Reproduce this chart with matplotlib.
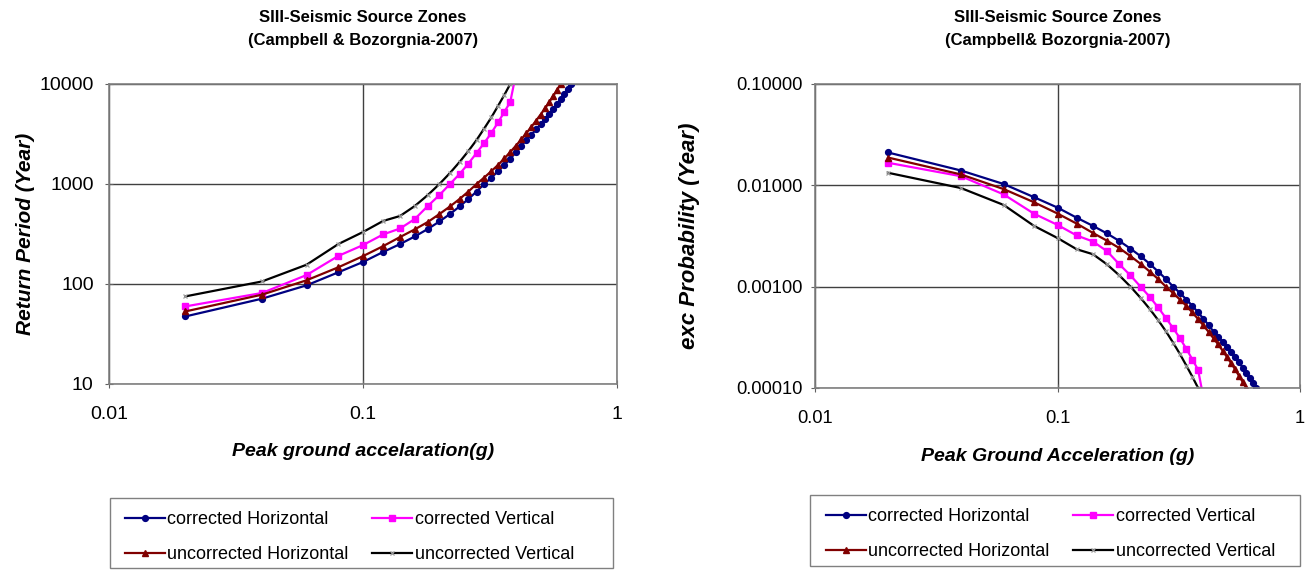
import matplotlib
matplotlib.use("Agg")
import matplotlib.pyplot as plt
from matplotlib.ticker import FixedLocator, FixedFormatter, NullLocator
from matplotlib.lines import Line2D
from matplotlib.patches import Rectangle

plt.rcParams['font.family'] = ['Liberation Sans', 'DejaVu Sans']

# ---------------- data ----------------
pga_ch = [0.02, 0.04, 0.06, 0.08, 0.10, 0.12, 0.14, 0.16, 0.18, 0.20, 0.22, 0.24,
          0.26, 0.28, 0.30, 0.32, 0.34, 0.36, 0.38, 0.40, 0.42, 0.44, 0.46, 0.48,
          0.50, 0.52, 0.54, 0.56, 0.58, 0.60, 0.62, 0.64, 0.66]
pga_uh = pga_ch[:30]
pga_cv = pga_ch[:20]
pga_uv = pga_ch[:19]

# Return period (years) - left chart
rp_corr_h = [47.4, 71.3, 97.0, 131, 166, 209, 251, 299, 355, 422, 501, 596,
             708, 841, 1000, 1156, 1340, 1549, 1795, 2075, 2399, 2780, 3126, 3508,
             3945, 4426, 4977, 5585, 6281, 7047, 7925, 8892, 10000]
rp_uncorr_h = [53.2, 78.2, 109, 147, 190, 239, 295, 352, 417, 501, 596, 708,
               841, 1000, 1159, 1343, 1549, 1799, 2089, 2415, 2799, 3236, 3724, 4295,
               4943, 5689, 6546, 7551, 8690, 10000]
rp_corr_v = [59.7, 81.3, 123, 191, 245, 313, 359, 447, 603, 776, 1000, 1259,
             1603, 2042, 2570, 3236, 4121, 5248, 6607, 12590]
rp_uncorr_v = [75.2, 106, 156, 251, 331, 427, 479, 603, 776, 1000, 1288, 1660,
               2138, 2754, 3589, 4624, 6026, 7762, 10000]

# Exceedance probability (1/year) - right chart
pe_corr_h = [0.0211, 0.0140, 0.0103, 0.00764, 0.00603, 0.00479, 0.00398, 0.00335,
             0.00282, 0.00237, 0.00200, 0.00168, 0.00141, 0.00119, 0.00100, 0.000865,
             0.000746, 0.000646, 0.000557, 0.000482, 0.000417, 0.000360, 0.000320,
             0.000285, 0.000254, 0.000226, 0.000201, 0.000179, 0.000159, 0.000142,
             0.000126, 0.000112, 0.000100]
pe_uncorr_h = [0.0188, 0.0128, 0.00918, 0.00681, 0.00527, 0.00419, 0.00339, 0.00284,
               0.00240, 0.00200, 0.00168, 0.00141, 0.00119, 0.00100, 0.000863,
               0.000745, 0.000646, 0.000556, 0.000479, 0.000414, 0.000357, 0.000309,
               0.000269, 0.000233, 0.000202, 0.000176, 0.000153, 0.000132, 0.000115,
               0.000100]
pe_corr_v = [0.0167, 0.0123, 0.00813, 0.00525, 0.00407, 0.00320, 0.00279, 0.00224,
             0.00166, 0.00129, 0.00100, 0.000794, 0.000624, 0.000490, 0.000389,
             0.000309, 0.000243, 0.000191, 0.000151, 0.0000794]
pe_uncorr_v = [0.0133, 0.00940, 0.00640, 0.00398, 0.00302, 0.00234, 0.00209, 0.00166,
               0.00129, 0.00100, 0.000776, 0.000603, 0.000468, 0.000363, 0.000279,
               0.000216, 0.000166, 0.000129, 0.000100]

labels = ["corrected Horizontal", "corrected Vertical",
          "uncorrected Horizontal", "uncorrected Vertical"]

x_ticks = [0.01, 0.1, 1]
x_ticklabels = ["0.01", "0.1", "1"]
y1_ticks = [10, 100, 1000, 10000]
y1_ticklabels = ["10", "100", "1000", "10000"]
y2_ticks = [0.0001, 0.001, 0.01, 0.1]
y2_ticklabels = ["0.00010", "0.00100", "0.01000", "0.10000"]

# ---------------- styles ----------------
C_BLUE = "#000080"
C_PINK = "#FF00FF"
C_RED = "#800000"
C_BLACK = "#000000"

styles = [
    dict(color=C_BLUE, marker='o', markersize=4.2, markerfacecolor=C_BLUE, markeredgecolor=C_BLUE),
    dict(color=C_PINK, marker='s', markersize=4.2, markerfacecolor=C_PINK, markeredgecolor=C_PINK),
    dict(color=C_RED, marker='^', markersize=4.2, markerfacecolor=C_RED, markeredgecolor=C_RED),
    dict(color=C_BLACK, marker='x', markersize=3.5, markeredgecolor="#9a9a9a", markeredgewidth=0.9),
]

W, H = 1310, 573
fig = plt.figure(figsize=(W/100, H/100), dpi=100)
fig.patch.set_facecolor("white")

ax1 = fig.add_axes([109/W, 1-384/H, 508/W, 300/H])
ax2 = fig.add_axes([815/W, 1-388/H, 485/W, 304/H])

def style_axes(ax, yticks, yticklabels, lsize, ypad):
    ax.set_xscale('log')
    ax.set_yscale('log')
    ax.set_xlim(0.01, 1)
    ax.set_ylim(min(yticks), max(yticks))
    ax.xaxis.set_major_locator(FixedLocator(x_ticks))
    ax.xaxis.set_major_formatter(FixedFormatter(x_ticklabels))
    ax.xaxis.set_minor_locator(NullLocator())
    ax.yaxis.set_major_locator(FixedLocator(yticks))
    ax.yaxis.set_major_formatter(FixedFormatter(yticklabels))
    ax.yaxis.set_minor_locator(NullLocator())
    ax.grid(True, which='major', color='#404040', linewidth=1.0)
    ax.set_axisbelow(True)
    for s in ax.spines.values():
        s.set_color('#808080')
        s.set_linewidth(1.2)
    ax.tick_params(axis='both', which='major', direction='inout', length=6,
                   color='#606060', labelsize=lsize)
    ax.tick_params(axis='x', pad=13)
    ax.tick_params(axis='y', pad=ypad)

style_axes(ax1, y1_ticks, y1_ticklabels, 14, 8)
style_axes(ax2, y2_ticks, y2_ticklabels, 13.2, 6)

series_left = [(pga_ch, rp_corr_h), (pga_cv, rp_corr_v), (pga_uh, rp_uncorr_h), (pga_uv, rp_uncorr_v)]
series_right = [(pga_ch, pe_corr_h), (pga_cv, pe_corr_v), (pga_uh, pe_uncorr_h), (pga_uv, pe_uncorr_v)]

for (x, y), st, lab in zip(series_left, styles, labels):
    ax1.plot(x, y, linewidth=1.6, label=lab, **st)
for (x, y), st, lab in zip(series_right, styles, labels):
    ax2.plot(x, y, linewidth=1.6, label=lab, **st)

title_kw = dict(fontsize=12, fontweight='bold', ha='center', va='center')
fig.text(363/W, 1-18/H, "SIII-Seismic Source Zones", **title_kw)
fig.text(363/W, 1-41/H, "(Campbell & Bozorgnia-2007)", **title_kw)
fig.text(1058/W, 1-18/H, "SIII-Seismic Source Zones", **title_kw)
fig.text(1058/W, 1-41/H, "(Campbell& Bozorgnia-2007)", **title_kw)

lab_kw = dict(fontweight='bold', fontstyle='italic')
ax1.set_xlabel("Peak ground accelaration(g)", fontsize=14, labelpad=14, **lab_kw)
ax1.set_ylabel("Return Period (Year)", fontsize=15, labelpad=3, **lab_kw)
ax2.set_xlabel("Peak Ground Acceleration (g)", fontsize=14, labelpad=15, **lab_kw)
ax2.set_ylabel("exc Probability (Year)", fontsize=16, labelpad=26, **lab_kw)

# legends: frame drawn as a rectangle, entries laid out row-wise like the reference
handles = [Line2D([], [], linewidth=1.6, **st) for st in styles]
order = [0, 2, 1, 3]
h_ord = [handles[i] for i in order]
l_ord = [labels[i] for i in order]

def add_legend(bx0, by0, bx1, by1, entry_x, entry_y):
    fig.patches.append(Rectangle((bx0/W, 1-by1/H), (bx1-bx0)/W, (by1-by0)/H,
                                 transform=fig.transFigure, fill=False,
                                 edgecolor='#808080', linewidth=1.0))
    leg = fig.legend(h_ord, l_ord, loc='upper left', ncol=2,
                     bbox_to_anchor=(entry_x/W, 1-entry_y/H),
                     frameon=False, fontsize=13,
                     handlelength=2.2, handletextpad=0.15, columnspacing=1.3,
                     labelspacing=1.0, borderaxespad=0.0, borderpad=0.0)
    return leg

add_legend(110, 498, 613, 568, 125, 511)
add_legend(810, 495, 1300, 566, 826, 508)

fig.savefig("out.png", dpi=100, facecolor="white")
